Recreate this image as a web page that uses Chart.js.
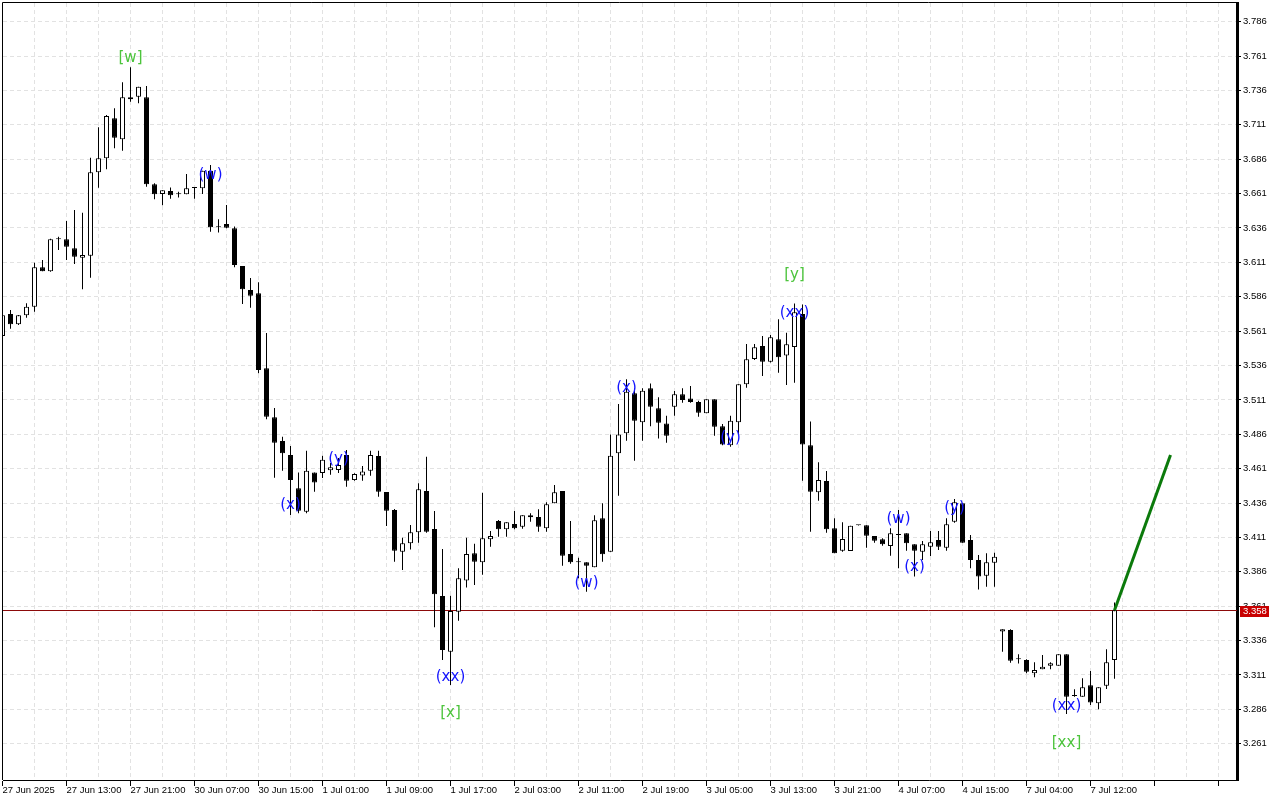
<!DOCTYPE html>
<html>
<head>
<meta charset="utf-8">
<title>Candles H1</title>
<script src="https://cdn.jsdelivr.net/npm/chart.js@4.4.1/dist/chart.umd.min.js"></script>
<style>
  html, body { margin: 0; padding: 0; background: #fff; }
  canvas { display: block; }
</style>
</head>
<body>
<canvas id="priceChart" width="1280" height="800"></canvas>
<script>
// Etiquetas del eje de tiempo (una cada 8 velas)
const timeLabels = ['27 Jun 2025', '27 Jun 13:00', '27 Jun 21:00', '30 Jun 07:00', '30 Jun 15:00',
  '1 Jul 01:00', '1 Jul 09:00', '1 Jul 17:00', '2 Jul 03:00', '2 Jul 11:00', '2 Jul 19:00',
  '3 Jul 05:00', '3 Jul 13:00', '3 Jul 21:00', '4 Jul 07:00', '4 Jul 15:00', '7 Jul 04:00', '7 Jul 12:00'];

// Velas horarias (open / high / low / close)
const opens = [3.5575, 3.5735, 3.5660, 3.5725, 3.5788, 3.6074, 3.6045, 3.6278, 3.6278, 3.6212,
  3.6144, 3.6159, 3.6765, 3.6867, 3.7158, 3.7005, 3.7296, 3.7315, 3.7310, 3.6678,
  3.6607, 3.6629, 3.6605, 3.6605, 3.6652, 3.6649, 3.6777, 3.6365, 3.6389, 3.6358,
  3.6084, 3.5909, 3.5885, 3.5340, 3.4983, 3.4811, 3.4709, 3.4467, 3.4297, 3.4582,
  3.4578, 3.4598, 3.4600, 3.4709, 3.4527, 3.4561, 3.4594, 3.4702, 3.4440, 3.4309,
  3.4006, 3.4067, 3.4147, 3.4447, 3.4171, 3.3684, 3.3279, 3.3570, 3.3796, 3.3994,
  3.3929, 3.4096, 3.4229, 3.4169, 3.4207, 3.4187, 3.4256, 3.4258, 3.4176, 3.4358,
  3.4447, 3.3989, 3.3929, 3.3929, 3.3893, 3.4249, 3.4006, 3.4722, 3.4867, 3.5158,
  3.4947, 3.5194, 3.5049, 3.4939, 3.5060, 3.5151, 3.5121, 3.5094, 3.5012, 3.5114,
  3.4919, 3.4781, 3.4947, 3.5224, 3.5408, 3.5502, 3.5388, 3.5551, 3.5432, 3.5494,
  3.5735, 3.4781, 3.4438, 3.4520, 3.4176, 3.4013, 3.4011, 3.4198, 3.4198, 3.4120,
  3.4096, 3.4048, 3.4127, 3.4140, 3.4060, 3.4006, 3.4042, 3.4091, 3.4035, 3.4224,
  3.4358, 3.4091, 3.3946, 3.3832, 3.3926, 3.3425, 3.3437, 3.3224, 3.3219, 3.3122,
  3.3151, 3.3177, 3.3177, 3.3260, 3.2957, 3.2952, 3.3035, 3.2904, 3.3032, 3.3219];
const highs = [3.5749, 3.5764, 3.5727, 3.5812, 3.6108, 3.6127, 3.6282, 3.6297, 3.6411, 3.6491,
  3.6471, 3.6871, 3.7092, 3.7182, 3.7230, 3.7419, 3.7528, 3.7387, 3.7392, 3.6685,
  3.6634, 3.6655, 3.6624, 3.6753, 3.6653, 3.6777, 3.6818, 3.6423, 3.6527, 3.6370,
  3.6084, 3.5996, 3.5965, 3.5596, 3.5051, 3.4842, 3.4774, 3.4582, 3.4740, 3.4582,
  3.4704, 3.4651, 3.4687, 3.4746, 3.4576, 3.4629, 3.4740, 3.4740, 3.4440, 3.4316,
  3.4108, 3.4200, 3.4504, 3.4697, 3.4302, 3.4025, 3.3686, 3.3885, 3.4108, 3.4063,
  3.4435, 3.4156, 3.4237, 3.4220, 3.4302, 3.4271, 3.4285, 3.4314, 3.4365, 3.4491,
  3.4447, 3.4229, 3.3962, 3.3929, 3.4271, 3.4358, 3.4859, 3.5080, 3.5260, 3.5194,
  3.5194, 3.5230, 3.5129, 3.4995, 3.5175, 3.5194, 3.5211, 3.5104, 3.5114, 3.5114,
  3.4934, 3.4995, 3.5224, 3.5517, 3.5517, 3.5575, 3.5582, 3.5696, 3.5599, 3.5811,
  3.5804, 3.4952, 3.4656, 3.4593, 3.4249, 3.4220, 3.4195, 3.4200, 3.4198, 3.4120,
  3.4103, 3.4176, 3.4309, 3.4140, 3.4060, 3.4084, 3.4156, 3.4156, 3.4249, 3.4389,
  3.4358, 3.4127, 3.3982, 3.3995, 3.3999, 3.3442, 3.3442, 3.3260, 3.3224, 3.3202,
  3.3255, 3.3202, 3.3260, 3.3260, 3.3006, 3.3085, 3.3138, 3.3020, 3.3296, 3.3636];
const lows = [3.5545, 3.5628, 3.5655, 3.5708, 3.5751, 3.6045, 3.6041, 3.6200, 3.6127, 3.6098,
  3.5914, 3.5999, 3.6653, 3.6787, 3.6939, 3.6922, 3.7278, 3.7267, 3.6660, 3.6569,
  3.6525, 3.6573, 3.6581, 3.6605, 3.6573, 3.6607, 3.6333, 3.6327, 3.6358, 3.6074,
  3.5807, 3.5780, 3.5303, 3.4969, 3.4544, 3.4594, 3.4273, 3.4285, 3.4285, 3.4442,
  3.4542, 3.4566, 3.4578, 3.4479, 3.4522, 3.4522, 3.4558, 3.4406, 3.4193, 3.3933,
  3.3873, 3.4023, 3.4072, 3.4144, 3.3456, 3.3218, 3.3037, 3.3504, 3.3745, 3.3764,
  3.3838, 3.4042, 3.4115, 3.4115, 3.4169, 3.4173, 3.4224, 3.4151, 3.4151, 3.4358,
  3.3904, 3.3918, 3.3813, 3.3715, 3.3893, 3.3933, 3.4006, 3.4413, 3.4813, 3.4668,
  3.4813, 3.4919, 3.4830, 3.4799, 3.4995, 3.5090, 3.5090, 3.4987, 3.5012, 3.4849,
  3.4781, 3.4769, 3.4856, 3.5199, 3.5400, 3.5284, 3.5381, 3.5308, 3.5218, 3.5235,
  3.4522, 3.4151, 3.4377, 3.4144, 3.3994, 3.4006, 3.4011, 3.4196, 3.4035, 3.4072,
  3.4050, 3.3977, 3.3885, 3.4013, 3.3825, 3.3946, 3.3975, 3.4018, 3.4013, 3.4217,
  3.4072, 3.3885, 3.3732, 3.3752, 3.3752, 3.3279, 3.3199, 3.3194, 3.3122, 3.3093,
  3.3151, 3.3151, 3.3177, 3.2826, 3.2952, 3.2952, 3.2891, 3.2860, 3.3007, 3.3083];
const closes = [3.5725, 3.5660, 3.5725, 3.5788, 3.6074, 3.6045, 3.6278, 3.6279, 3.6224, 3.6151,
  3.6164, 3.6765, 3.6867, 3.7174, 3.7017, 3.7310, 3.7310, 3.7387, 3.6678, 3.6605,
  3.6634, 3.6598, 3.6605, 3.6649, 3.6650, 3.6777, 3.6365, 3.6365, 3.6362, 3.6091,
  3.5914, 3.5868, 3.5327, 3.4988, 3.4799, 3.4722, 3.4527, 3.4304, 3.4595, 3.4509,
  3.4675, 3.4620, 3.4636, 3.4522, 3.4571, 3.4590, 3.4709, 3.4442, 3.4304, 3.4013,
  3.4067, 3.4147, 3.4460, 3.4151, 3.3696, 3.3291, 3.3575, 3.3813, 3.3989, 3.3933,
  3.4103, 3.4120, 3.4169, 3.4220, 3.4176, 3.4271, 3.4271, 3.4187, 3.4351, 3.4438,
  3.3977, 3.3929, 3.3929, 3.3904, 3.4234, 3.3987, 3.4704, 3.4859, 3.5170, 3.4959,
  3.5177, 3.5060, 3.4944, 3.4849, 3.5151, 3.5109, 3.5094, 3.5016, 3.5114, 3.4914,
  3.4786, 3.4958, 3.5224, 3.5405, 3.5492, 3.5388, 3.5565, 3.5420, 3.5514, 3.5747,
  3.4786, 3.4442, 3.4527, 3.4169, 3.3994, 3.4098, 3.4195, 3.4198, 3.4122, 3.4086,
  3.4060, 3.4140, 3.4127, 3.4067, 3.4013, 3.4060, 3.4074, 3.4042, 3.4205, 3.4365,
  3.4072, 3.3946, 3.3825, 3.3929, 3.3970, 3.3442, 3.3214, 3.3224, 3.3134, 3.3146,
  3.3170, 3.3195, 3.3260, 3.2952, 3.2957, 3.3020, 3.2909, 3.3020, 3.3202, 3.3580];

// Escala de precios
const priceTicks = [3.261, 3.286, 3.311, 3.336, 3.361, 3.386, 3.411, 3.436, 3.461, 3.486, 3.511,
  3.536, 3.561, 3.586, 3.611, 3.636, 3.661, 3.686, 3.711, 3.736, 3.761, 3.786];
const lastPrice = 3.358;

// Marcas de ondas
const waveText = ['[w]', '(w)', '(x)', '(y)', '(xx)', '[x]', '(w)', '(x)', '(y)', '[y]', '(xx)',
  '(w)', '(x)', '(y)', '(xx)', '[xx]'];
const waveBar = [16, 26, 36, 42, 56, 56, 73, 78, 91, 99, 99, 112, 114, 119, 133, 133];
const wavePrice = [3.7596, 3.6745, 3.4346, 3.4680, 3.3097, 3.2831, 3.3778, 3.5196, 3.4833, 3.6018,
  3.5742, 3.4244, 3.3897, 3.4322, 3.2884, 3.2617];

// Flecha de proyección
const arrowBars = [139, 146];
const arrowPrices = [3.358, 3.471];

const tickFont = { family: "'Liberation Sans', sans-serif", size: 9.5 };

const bodies = opens.map((o, i) => ({ x: i, y: [o, closes[i]] }));
const wicks = lows.map((l, i) => ({ x: i, y: [l, highs[i]] }));

// Sin relleno extra para las etiquetas de los extremos
function noPadding(s) {
    s.paddingTop = 0;
    s.paddingBottom = 0;
    s.paddingLeft = 0;
    s.paddingRight = 0;
}

// Línea de precio, etiquetas y marco
const overlayPlugin = {
    id: 'overlay',
    beforeDatasetsDraw(chart) {
        const { ctx, chartArea: a, scales: { y } } = chart;
        const py = Math.round(y.getPixelForValue(lastPrice)) + 0.5;
        ctx.save();
        ctx.strokeStyle = '#8c0a0a';
        ctx.lineWidth = 1;
        ctx.beginPath();
        ctx.moveTo(a.left, py);
        ctx.lineTo(a.right, py);
        ctx.stroke();
        ctx.restore();
    },
    afterDatasetsDraw(chart) {
        const { ctx, chartArea: a, scales: { x, y } } = chart;
        ctx.save();
        ctx.font = '15px "DejaVu Sans"';
        ctx.textAlign = 'center';
        ctx.textBaseline = 'middle';
        waveText.forEach((t, i) => {
            ctx.fillStyle = t[0] === '[' ? '#4cc43c' : '#1414ff';
            ctx.fillText(t, x.getPixelForValue(waveBar[i]), y.getPixelForValue(wavePrice[i]));
        });
        ctx.strokeStyle = '#000';
        ctx.lineWidth = 1;
        ctx.beginPath();
        ctx.moveTo(a.left - 0.5, a.bottom);
        ctx.lineTo(a.left - 0.5, a.top - 0.5);
        ctx.lineTo(a.right, a.top - 0.5);
        ctx.stroke();
        ctx.restore();
    },
    afterDraw(chart) {
        const { ctx, chartArea: a, scales: { y } } = chart;
        const py = Math.round(y.getPixelForValue(lastPrice));
        ctx.save();
        ctx.fillStyle = '#c80000';
        ctx.fillRect(a.right + 3, py - 4, 29, 11);
        ctx.fillStyle = '#fff';
        ctx.font = tickFont.size + 'px ' + tickFont.family;
        ctx.textAlign = 'left';
        ctx.textBaseline = 'middle';
        ctx.fillText(lastPrice.toFixed(3), a.right + 6, py + 1.5);
        ctx.restore();
    }
};

const ctx = document.getElementById('priceChart').getContext('2d');
const priceChart = new Chart(ctx, {
    type: 'bar',
    data: {
        datasets: [
            {
                type: 'line',
                data: arrowBars.map((b, i) => ({ x: b, y: arrowPrices[i] })),
                borderColor: '#0b7a0b',
                borderWidth: 3,
                pointRadius: 0,
                clip: false,
                order: 0
            },
            {
                data: bodies,
                backgroundColor: c => closes[c.dataIndex] >= opens[c.dataIndex] ? '#ffffff' : '#000000',
                borderColor: '#000000',
                borderWidth: 1,
                borderSkipped: false,
                barThickness: 5,
                minBarLength: 1,
                inflateAmount: 0,
                grouped: false,
                clip: 0,
                order: 1
            },
            {
                data: wicks,
                backgroundColor: '#000000',
                borderWidth: 0,
                barThickness: 1,
                inflateAmount: 0,
                grouped: false,
                clip: 0,
                order: 2
            }
        ]
    },
    options: {
        responsive: false,
        animation: false,
        devicePixelRatio: 1,
        layout: { padding: { left: 3, top: 3, right: 0, bottom: 0 } },
        plugins: {
            legend: { display: false },
            tooltip: { enabled: false }
        },
        scales: {
            x: {
                type: 'linear',
                min: 0.0625,
                max: 154.3125,
                offset: false,
                afterFit: s => { s.height = 20; noPadding(s); },
                afterBuildTicks: s => {
                    const t = [];
                    for (let v = 0; v <= 152; v += 4) t.push({ value: v });
                    s.ticks = t;
                },
                grid: {
                    offset: false,
                    color: '#e2e2e2',
                    tickLength: 6,
                    tickColor: c => (c.tick && c.tick.value % 8 === 0) ? '#000' : 'rgba(0,0,0,0)'
                },
                border: { display: true, color: '#000', width: 1, dash: [4, 3] },
                ticks: {
                    autoSkip: false,
                    maxRotation: 0,
                    minRotation: 0,
                    align: 'start',
                    padding: -1,
                    color: '#000',
                    font: tickFont,
                    callback: v => (v % 8 === 0 && timeLabels[v / 8]) ? timeLabels[v / 8] : ''
                }
            },
            y: {
                type: 'linear',
                position: 'right',
                min: 3.2346,
                max: 3.7996,
                afterFit: s => { s.width = 43; noPadding(s); },
                afterBuildTicks: s => { s.ticks = priceTicks.map(v => ({ value: v })); },
                grid: { color: '#e2e2e2', tickLength: 4, tickColor: '#000' },
                border: { display: true, color: '#000', width: 3, dash: [4, 3] },
                ticks: {
                    padding: 2,
                    color: '#000',
                    font: tickFont,
                    callback: v => v.toFixed(3)
                }
            }
        }
    },
    plugins: [overlayPlugin]
});
</script>
</body>
</html>
